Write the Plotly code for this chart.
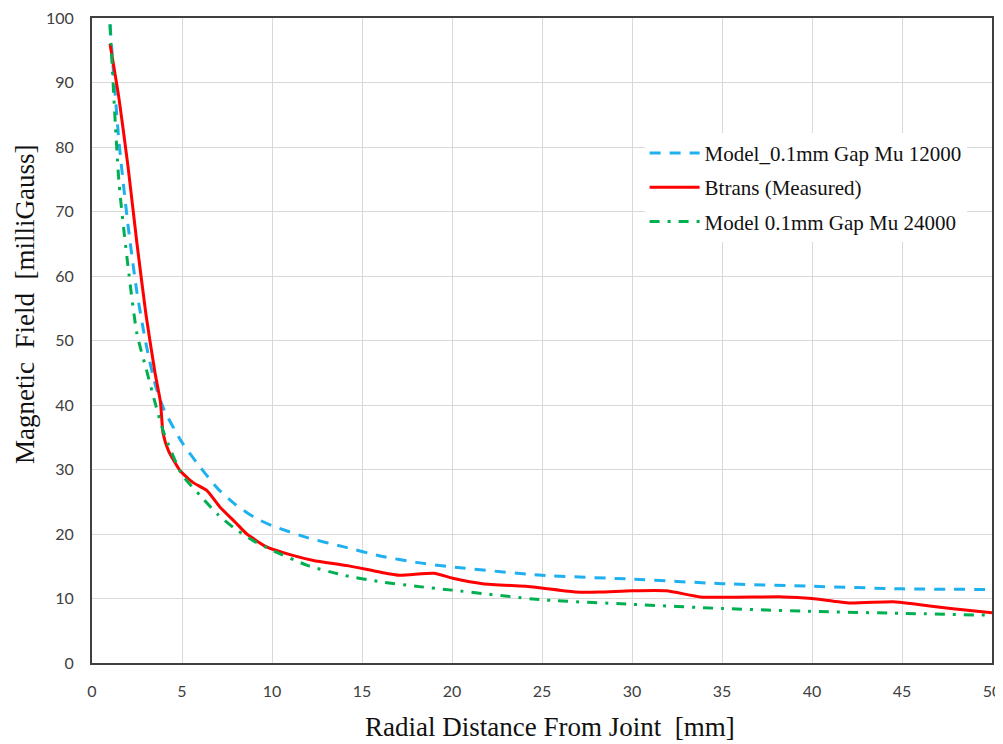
import plotly.graph_objects as go

# Model curves (x in mm, field in milliGauss)
x_model = [1, 1.5, 2, 2.5, 3, 3.5, 4, 5, 6, 7, 8, 9, 10, 12, 14, 16, 18, 20, 25, 30, 35, 40, 45, 50]
mu12000 = [99, 80.8, 67.9, 57.4, 49.5, 43.3, 39.3, 34.2, 30.4, 27.0, 24.5, 22.6, 21.3, 19.4, 18.0, 16.6, 15.6, 14.9, 13.6, 13.0, 12.3, 11.9, 11.5, 11.4]
mu24000 = [99, 74.5, 61.5, 51.0, 45.7, 40.4, 35.6, 29.2, 26.0, 23.0, 20.7, 18.9, 17.5, 15.1, 13.6, 12.6, 11.9, 11.3, 9.8, 9.1, 8.45, 8.0, 7.7, 7.4]

# Measured curve
x_meas = [1, 1.5, 2, 2.5, 3, 3.5, 3.8, 3.95, 4.25, 4.9, 5.6, 6.4, 7.1, 8, 8.6, 9.7, 11, 12.3, 14.2, 16, 17.1, 19, 20.1, 21.7, 24.5, 26.9, 28.2, 30, 31.9, 33.8, 35.7, 38.4, 40, 42.1, 44.5, 45.8, 47.7, 50]
btrans = [96, 87.5, 77, 65, 54, 45, 40.5, 35.6, 32.9, 29.8, 28.0, 26.7, 24.2, 21.7, 20, 18, 16.8, 15.9, 15.1, 14.1, 13.6, 13.9, 13.1, 12.3, 11.8, 11.0, 11.0, 11.2, 11.2, 10.25, 10.2, 10.25, 10.0, 9.3, 9.5, 9.1, 8.45, 7.8]

x_ticks = [0, 5, 10, 15, 20, 25, 30, 35, 40, 45, 50]
y_ticks = [0, 10, 20, 30, 40, 50, 60, 70, 80, 90, 100]

x_title = "Radial Distance From Joint  [mm]"
y_title = "Magnetic  Field  [milliGauss]"

fig = go.Figure()
fig.add_trace(go.Scatter(
    x=x_model, y=mu12000, mode="lines", name="Model_0.1mm Gap Mu 12000",
    legendgroup="a",
    line=dict(color="#1FB0F0", width=3, dash="11px,9px", shape="spline", smoothing=0.6)))
fig.add_trace(go.Scatter(
    x=x_meas, y=btrans, mode="lines", name="Btrans (Measured)",
    legendgroup="b",
    line=dict(color="#FF0000", width=3, shape="spline", smoothing=0.5)))
fig.add_trace(go.Scatter(
    x=x_model, y=mu24000, mode="lines", name="Model 0.1mm Gap Mu 24000",
    legendgroup="c",
    line=dict(color="#00B050", width=3, dash="10px,8px,3px,8px", shape="spline", smoothing=0.6)))

axis_common = dict(
    showgrid=True, gridcolor="#D9D9D9", gridwidth=1,
    showline=True, linecolor="#404040", linewidth=2, mirror=True,
    zeroline=False, ticks="", automargin=False, ticklabeloverflow="allow",
    tickfont=dict(family="Lato, Liberation Sans, sans-serif", size=16, color="#404040"),
)

fig.update_xaxes(range=[0, 50], tickvals=x_ticks, ticktext=[str(v) for v in x_ticks],
                 ticklabelstandoff=13, **axis_common)
fig.update_yaxes(range=[0, 100], tickvals=y_ticks, ticktext=[str(v) for v in y_ticks],
                 ticklabelstandoff=13, **axis_common)

title_font = dict(family="Liberation Serif, serif", size=27, color="#111")
fig.add_annotation(text=x_title, xref="paper", yref="paper", x=0.509, y=0,
                   xanchor="center", yanchor="middle", yshift=-64,
                   showarrow=False, font=title_font)
fig.add_annotation(text=y_title, xref="paper", yref="paper", x=0, y=0.555,
                   xanchor="center", yanchor="middle", xshift=-67, textangle=-90,
                   showarrow=False, font=title_font)

fig.update_layout(
    width=995, height=736,
    margin=dict(l=84, r=11, t=10, b=81),
    paper_bgcolor="white", plot_bgcolor="white",
    showlegend=True,
    legend=dict(
        x=0.614, y=0.822, xanchor="left", yanchor="top",
        bgcolor="white", borderwidth=0,
        font=dict(family="Liberation Serif, serif", size=21, color="#111"),
        tracegroupgap=4, traceorder="grouped", itemwidth=50,
    ),
)

fig.write_html("out.html")
